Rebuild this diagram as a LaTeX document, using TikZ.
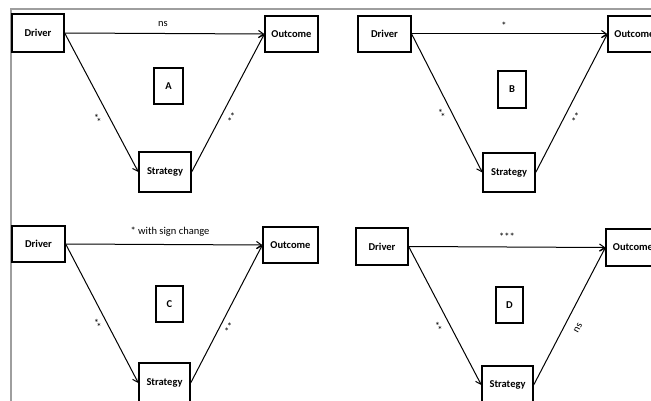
\documentclass[tikz,border=0pt]{standalone}
\usepackage{fontspec}
\setmainfont{Carlito}
\usetikzlibrary{arrows.meta}
\tikzset{
  box/.style={draw=black, line width=1.3pt, fill=white, inner sep=0pt,
    font=\fontsize{10.5}{12}\selectfont\bfseries},
  tag/.style={draw=black, line width=1.3pt, fill=white, inner sep=0pt,
    font=\fontsize{10.5}{12}\selectfont\bfseries},
  link/.style={draw=black, line width=1pt, -{Straight Barb[length=5pt,width=7pt,line width=1pt]}},
  sig/.style={font=\fontsize{10.5}{12}\selectfont, inner sep=0pt},
  frameline/.style={draw=black!38, line width=1.5pt}
}
\begin{document}
\begin{tikzpicture}[x=1pt, y=-1pt]
\useasboundingbox (0,0) rectangle (651,401);
\fill[white] (0,0) rectangle (651,401);

% outer frame of the figure
\coordinate (fbl) at (11,405);
\coordinate (ftl) at (11,9);
\coordinate (ftr) at (655,9);
\draw[frameline] (fbl) -- (ftl) -- (ftr);

% ---------- panel A ----------
\node[box, minimum width=52pt, minimum height=38pt] (drvA) at (38,33) {Driver};
\node[box, minimum width=53pt, minimum height=36pt] (outA) at (291.5,34) {Outcome};
\node[tag, minimum width=29pt, minimum height=36pt] (labA) at (168.5,86) {A};
\node[box, minimum width=52pt, minimum height=40pt] (strA) at (165,172) {Strategy};
\draw[link] (drvA.east) -- (outA.west);
\draw[link] (drvA.east) -- (strA.west);
\draw[link] (strA.east) -- (outA.west);
\node[sig] (tA) at (163,24) {ns};
\node[sig, rotate=-61] (lA) at (96,119) {**};
\node[sig, rotate=61] (rA) at (233,118) {**};

% ---------- panel B ----------
\node[box, minimum width=53pt, minimum height=36pt] (drvB) at (384.5,34) {Driver};
\node[box, minimum width=53pt, minimum height=36pt] (outB) at (634.5,34) {Outcome};
\node[tag, minimum width=28pt, minimum height=37pt] (labB) at (512,89.5) {B};
\node[box, minimum width=52pt, minimum height=39pt] (strB) at (509,172.5) {Strategy};
\draw[link] (drvB.east) -- (outB.west);
\draw[link] (drvB.east) -- (strB.west);
\draw[link] (strB.east) -- (outB.west);
\node[sig] (tB) at (504,25.5) {*};
\node[sig, rotate=-61] (lB) at (440,114) {**};
\node[sig, rotate=61] (rB) at (577,118) {**};

% ---------- panel C ----------
\node[box, minimum width=53pt, minimum height=36pt] (drvC) at (38.5,244) {Driver};
\node[box, minimum width=55pt, minimum height=36pt] (outC) at (290.5,245) {Outcome};
\node[tag, minimum width=27pt, minimum height=36pt] (labC) at (169.5,304) {C};
\node[box, minimum width=51pt, minimum height=40pt] (strC) at (164.5,383) {Strategy};
\draw[link] (drvC.east) -- (outC.west);
\draw[link] (drvC.east) -- (strC.west);
\draw[link] (strC.east) -- (outC.west);
\node[sig] (tC) at (170,232) {* with sign change};
\node[sig, rotate=-61] (lC) at (96,324) {**};
\node[sig, rotate=61] (rC) at (230,328) {**};

% ---------- panel D ----------
\node[box, minimum width=52pt, minimum height=37pt] (drvD) at (382,246.5) {Driver};
\node[box, minimum width=54pt, minimum height=37pt] (outD) at (633,247.5) {Outcome};
\node[tag, minimum width=27pt, minimum height=36pt] (labD) at (509.5,305) {D};
\node[box, minimum width=51pt, minimum height=38pt] (strD) at (507.5,385) {Strategy};
\draw[link] (drvD.east) -- (outD.west);
\draw[link] (drvD.east) -- (strD.west);
\draw[link] (strD.east) -- (outD.west);
\node[sig] (tD) at (507,237) {***};
\node[sig, rotate=-61] (lD) at (437,327) {**};
\node[sig, rotate=61] (rD) at (578,328) {ns};
\end{tikzpicture}
\end{document}
